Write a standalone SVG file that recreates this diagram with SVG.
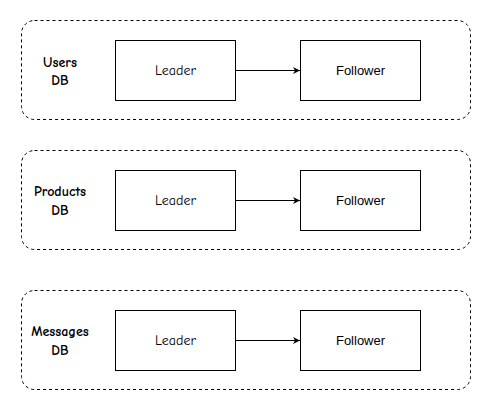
<svg xmlns="http://www.w3.org/2000/svg" width="491" height="411" viewBox="0 0 491 411">
<style>
.grp{fill:none;stroke:#000;stroke-width:1;stroke-dasharray:3 3}
.box{fill:#fff;stroke:#000;stroke-width:1}
.lbl{font-family:"Comic Neue","Comic Sans MS","DejaVu Sans",sans-serif;font-size:14px;font-weight:bold;text-anchor:middle;fill:#000}
.ld{font-family:"Comic Neue","Comic Sans MS","DejaVu Sans",sans-serif;font-size:14px;text-anchor:middle;fill:#000}
.fl{font-family:"Liberation Sans",Arial,sans-serif;font-size:13px;text-anchor:middle;fill:#000}
.edge{stroke:#000;stroke-width:1;fill:none}
</style>
<defs>
<marker id="ah" markerWidth="8" markerHeight="8" refX="7" refY="4" orient="auto" markerUnits="userSpaceOnUse">
<path d="M0,0.5 L7,4 L0,7.5 L2,4 Z" fill="#000"/>
</marker>
</defs>
<g id="users-group">
<rect class="grp" x="21.5" y="20.5" width="449" height="99" rx="13"/>
<text class="lbl" x="60" y="67">Users</text>
<text class="lbl" x="60" y="85">DB</text>
</g>
<g id="users-leader"><rect class="box" x="115.5" y="40.5" width="120" height="60"/><text class="ld" x="175.5" y="75">Leader</text></g>
<g id="users-follower"><rect class="box" x="300.5" y="40.5" width="120" height="60"/><text class="fl" x="360.5" y="75">Follower</text></g>
<g id="products-group">
<rect class="grp" x="21.5" y="150.5" width="449" height="99" rx="13"/>
<text class="lbl" x="60" y="196">Products</text>
<text class="lbl" x="60" y="215">DB</text>
</g>
<g id="products-leader"><rect class="box" x="115.5" y="170.5" width="120" height="60"/><text class="ld" x="175.5" y="205">Leader</text></g>
<g id="products-follower"><rect class="box" x="300.5" y="170.5" width="120" height="60"/><text class="fl" x="360.5" y="205">Follower</text></g>
<g id="messages-group">
<rect class="grp" x="21.5" y="290.5" width="449" height="99" rx="13"/>
<text class="lbl" x="60" y="336">Messages</text>
<text class="lbl" x="60" y="355">DB</text>
</g>
<g id="messages-leader"><rect class="box" x="115.5" y="310.5" width="120" height="60"/><text class="ld" x="175.5" y="345">Leader</text></g>
<g id="messages-follower"><rect class="box" x="300.5" y="310.5" width="120" height="60"/><text class="fl" x="360.5" y="345">Follower</text></g>
<g id="connectors">
<line class="edge" x1="235.5" y1="70.5" x2="300" y2="70.5" marker-end="url(#ah)"/>
<line class="edge" x1="235.5" y1="200.5" x2="300" y2="200.5" marker-end="url(#ah)"/>
<line class="edge" x1="235.5" y1="340.5" x2="300" y2="340.5" marker-end="url(#ah)"/>
</g>
</svg>
